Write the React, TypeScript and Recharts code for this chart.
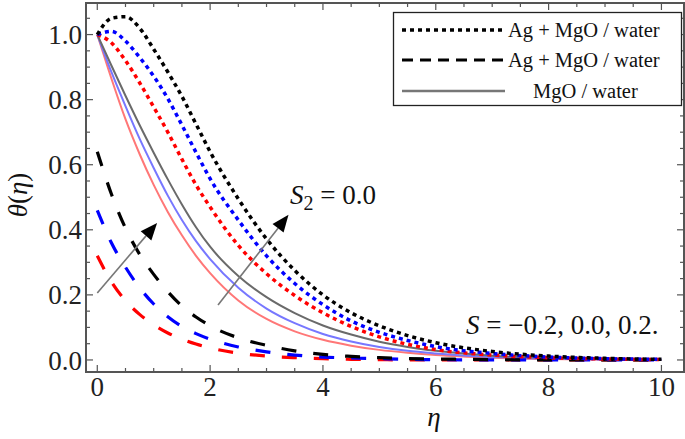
import React from "react";
import { LineChart, Line, XAxis, YAxis, ReferenceLine, ReferenceArea } from "recharts";

// eta grid shared by every curve
const eta = [0, 0.25, 0.5, 0.75, 1, 1.25, 1.5, 1.75, 2, 2.5, 3, 3.5, 4, 4.5, 5, 5.5, 6, 7, 8, 9, 10];

// dotted: Ag + MgO / water (first set)
const dotBlack = [1.0, 1.05, 1.055, 1.02, 0.955, 0.885, 0.81, 0.725, 0.64, 0.495, 0.372, 0.275, 0.2, 0.145, 0.105, 0.075, 0.053, 0.026, 0.012, 0.005, 0.002];
const dotBlue = [1.0, 1.01, 0.98, 0.93, 0.872, 0.803, 0.722, 0.638, 0.557, 0.43, 0.32, 0.235, 0.17, 0.12, 0.085, 0.06, 0.041, 0.02, 0.009, 0.004, 0.002];
const dotRed = [1.0, 0.975, 0.92, 0.852, 0.777, 0.7, 0.617, 0.538, 0.47, 0.352, 0.265, 0.198, 0.145, 0.103, 0.071, 0.048, 0.032, 0.015, 0.007, 0.003, 0.001];

// dashed: Ag + MgO / water (second set)
const dashBlack = [0.64, 0.51, 0.405, 0.325, 0.263, 0.21, 0.166, 0.132, 0.105, 0.068, 0.045, 0.028, 0.017, 0.011, 0.007, 0.004, 0.003, 0.001, 0, 0, 0];
const dashBlue = [0.46, 0.36, 0.285, 0.222, 0.172, 0.133, 0.103, 0.081, 0.064, 0.04, 0.025, 0.015, 0.009, 0.006, 0.004, 0.002, 0.001, 0, 0, 0, 0];
const dashRed = [0.32, 0.24, 0.182, 0.14, 0.108, 0.083, 0.064, 0.049, 0.037, 0.021, 0.012, 0.007, 0.004, 0.002, 0.001, 0, 0, 0, 0, 0, 0];

// solid: MgO / water
const solidGray = [1.0, 0.905, 0.812, 0.722, 0.637, 0.555, 0.478, 0.408, 0.348, 0.258, 0.193, 0.144, 0.106, 0.078, 0.056, 0.04, 0.028, 0.013, 0.006, 0.003, 0.001];
const solidBlue = [1.0, 0.885, 0.78, 0.68, 0.59, 0.505, 0.43, 0.365, 0.31, 0.222, 0.158, 0.113, 0.08, 0.057, 0.04, 0.028, 0.02, 0.009, 0.004, 0.002, 0.001];
const solidRed = [1.0, 0.865, 0.74, 0.633, 0.538, 0.455, 0.383, 0.32, 0.267, 0.183, 0.126, 0.088, 0.062, 0.044, 0.031, 0.022, 0.015, 0.007, 0.003, 0.001, 0];

const xTicks = [0, 2, 4, 6, 8, 10];
const yTicks = [0, 0.2, 0.4, 0.6, 0.8, 1.0];
const xMinor = Array.from({ length: 21 }, (_, i) => i * 0.5);
const yMinor = Array.from({ length: 22 }, (_, i) => Math.round(i * 5) / 100);

const legendLabels = ["Ag + MgO / water", "Ag + MgO / water", "MgO / water"];

const data = eta.map((e, i) => ({
  eta: e,
  dotBlack: dotBlack[i],
  dotBlue: dotBlue[i],
  dotRed: dotRed[i],
  dashBlack: dashBlack[i],
  dashBlue: dashBlue[i],
  dashRed: dashRed[i],
  solidGray: solidGray[i],
  solidBlue: solidBlue[i],
  solidRed: solidRed[i],
}));

const FONT = "'Liberation Serif', 'Times New Roman', serif";
const FRAME = "#555";

const XDOM: [number, number] = [-0.2, 10.4];
const YDOM: [number, number] = [-0.037, 1.097];

// inward ticks on bottom + top
const VTick = (len: number) => (props: any) => {
  const { x1, y1, y2 } = props;
  const top = Math.min(y1, y2);
  const bot = Math.max(y1, y2);
  return (
    <g>
      <line x1={x1} x2={x1} y1={bot} y2={bot - len} stroke={FRAME} strokeWidth={1.2} />
      <line x1={x1} x2={x1} y1={top} y2={top + len} stroke={FRAME} strokeWidth={1.2} />
    </g>
  );
};

// inward ticks on left + right
const HTick = (len: number) => (props: any) => {
  const { x1, x2, y1 } = props;
  const l = Math.min(x1, x2);
  const r = Math.max(x1, x2);
  return (
    <g>
      <line x1={l} x2={l + len} y1={y1} y2={y1} stroke={FRAME} strokeWidth={1.2} />
      <line x1={r} x2={r - len} y1={y1} y2={y1} stroke={FRAME} strokeWidth={1.2} />
    </g>
  );
};

const Arrow = (props: any) => {
  const { x1, y1, x2, y2 } = props;
  const dx = x2 - x1;
  const dy = y2 - y1;
  const L = Math.hypot(dx, dy);
  const ux = dx / L;
  const uy = dy / L;
  const hl = 17;
  const hw = 7;
  const bx = x2 - ux * hl;
  const by = y2 - uy * hl;
  return (
    <g>
      <line x1={x1} y1={y1} x2={bx} y2={by} stroke="#777" strokeWidth={1.6} />
      <polygon
        points={`${x2},${y2} ${bx - uy * hw},${by + ux * hw} ${bx + uy * hw},${by - ux * hw}`}
        fill="#000"
      />
    </g>
  );
};

const tickStyle = { fontSize: 27, fontFamily: FONT, fill: "#222" };

export default function App() {
  return (
    <div style={{ position: "absolute", left: 0, top: 0, width: 685, height: 439, background: "#fff" }}>
      <LineChart width={685} height={439} data={data} margin={{ top: 3, right: 1, left: 0, bottom: 0 }}>
        <XAxis
          dataKey="eta"
          type="number"
          domain={XDOM}
          ticks={xTicks}
          tickFormatter={(v) => String(v)}
          height={67}
          axisLine={false}
          tickLine={false}
          tickSize={5}
          tickMargin={0}
          tick={tickStyle}
          allowDataOverflow
        />
        <YAxis
          type="number"
          domain={YDOM}
          ticks={yTicks}
          tickFormatter={(v) => v.toFixed(1)}
          width={86}
          axisLine={false}
          tickLine={false}
          tickSize={4}
          tickMargin={0}
          tick={tickStyle}
          allowDataOverflow
        />
        <ReferenceArea x1={XDOM[0]} x2={XDOM[1]} y1={YDOM[0]} y2={YDOM[1]} fill="none" stroke={FRAME} strokeWidth={2} fillOpacity={0} />
        {xMinor.map((v) => (
          <ReferenceLine key={"xt" + v} x={v} shape={VTick(v % 2 === 0 ? 7 : 4)} />
        ))}
        {yMinor.map((v) => (
          <ReferenceLine key={"yt" + v} y={v} shape={HTick(Math.round(v * 100) % 20 === 0 ? 7 : 4)} />
        ))}

        <Line dataKey="solidRed" type="monotone" stroke="#ff7777" strokeWidth={2} dot={false} isAnimationActive={false} />
        <Line dataKey="solidBlue" type="monotone" stroke="#7777ff" strokeWidth={2} dot={false} isAnimationActive={false} />
        <Line dataKey="solidGray" type="monotone" stroke="#6a6a6a" strokeWidth={2} dot={false} isAnimationActive={false} />

        <Line dataKey="dashRed" type="monotone" stroke="#ff0000" strokeWidth={3.2} strokeDasharray="15 17" dot={false} isAnimationActive={false} />
        <Line dataKey="dashBlue" type="monotone" stroke="#0000ff" strokeWidth={3.2} strokeDasharray="15 17" dot={false} isAnimationActive={false} />
        <Line dataKey="dashBlack" type="monotone" stroke="#000" strokeWidth={3.2} strokeDasharray="15 17" dot={false} isAnimationActive={false} />

        <Line dataKey="dotRed" type="monotone" stroke="#ff0000" strokeWidth={3.5} strokeDasharray="4 4" dot={false} isAnimationActive={false} />
        <Line dataKey="dotBlue" type="monotone" stroke="#0000ff" strokeWidth={3.5} strokeDasharray="4 4" dot={false} isAnimationActive={false} />
        <Line dataKey="dotBlack" type="monotone" stroke="#000" strokeWidth={3.5} strokeDasharray="4 4" dot={false} isAnimationActive={false} />

        <ReferenceLine segment={[{ x: 0, y: 0.206 }, { x: 1.06, y: 0.421 }]} shape={Arrow} ifOverflow="visible" />
        <ReferenceLine segment={[{ x: 2.14, y: 0.169 }, { x: 3.39, y: 0.446 }]} shape={Arrow} ifOverflow="visible" />
      </LineChart>

      {/* legend + annotations */}
      <svg style={{ position: "absolute", left: 0, top: 0 }} width={685} height={439} pointerEvents="none">
        <rect x={393.5} y={12.5} width={288} height={93} fill="#fff" stroke="#222" strokeWidth={1.3} />
        <line x1={402} x2={505} y1={30} y2={30} stroke="#000" strokeWidth={3.5} strokeDasharray="4 4" />
        <line x1={402} x2={505} y1={60} y2={60} stroke="#000" strokeWidth={3} strokeDasharray="11 7" />
        <line x1={402} x2={505} y1={91} y2={91} stroke="#777" strokeWidth={2.5} />
        <text x={508} y={37} fontFamily={FONT} fontSize={20.5} fill="#111">{legendLabels[0]}</text>
        <text x={508} y={67} fontFamily={FONT} fontSize={20.5} fill="#111">{legendLabels[1]}</text>
        <text x={533} y={98} fontFamily={FONT} fontSize={20.5} fill="#111">{legendLabels[2]}</text>

        <text x={290} y={204} fontFamily={FONT} fontSize={27} fill="#111">
          <tspan fontStyle="italic">S</tspan>
          <tspan fontSize={20} dy={6}>2</tspan>
          <tspan dy={-6}> = 0.0</tspan>
        </text>
        <text x={466} y={334} fontFamily={FONT} fontSize={27} fill="#111">
          <tspan fontStyle="italic">S</tspan>
          <tspan> = −0.2, 0.0, 0.2.</tspan>
        </text>
        <text x={434} y={426} textAnchor="middle" fontFamily={FONT} fontSize={27} fontStyle="italic" fill="#111">η</text>
        <text
          x={0}
          y={0}
          transform="translate(27,195) rotate(-90)"
          textAnchor="middle"
          fontFamily={FONT}
          fontSize={27}
          fill="#111"
        >
          <tspan fontStyle="italic">θ</tspan>
          <tspan>(</tspan>
          <tspan fontStyle="italic">η</tspan>
          <tspan>)</tspan>
        </text>
      </svg>
    </div>
  );
}
